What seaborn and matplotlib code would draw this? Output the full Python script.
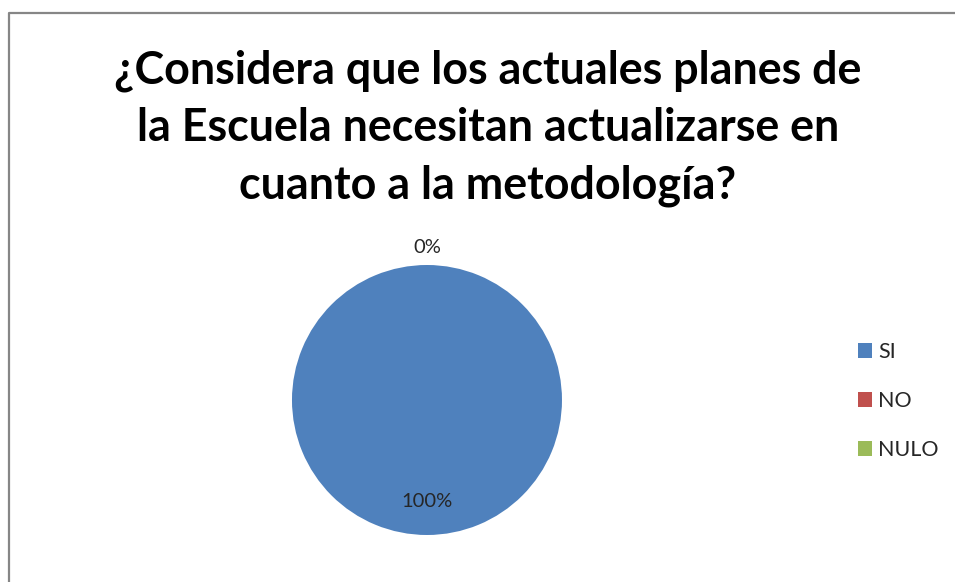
import seaborn as sns
import matplotlib.pyplot as plt
from matplotlib.lines import Line2D

# data
categories = ["SI", "NO", "NULO"]
values = [100, 0, 0]
pct_labels = ["100%", "0%", ""]
colors = ["#4F81BD", "#C0504D", "#9BBB59"]
title = "¿Considera que los actuales planes de\nla Escuela necesitan actualizarse en\ncuanto a la metodología?"

sns.set_theme(style="white")
plt.rcParams["font.family"] = ["Lato", "DejaVu Sans"]

fig = plt.figure(figsize=(9.55, 5.82), dpi=100)
fig.patch.set_facecolor("white")

# chart border (left and top edges visible)
fig.add_artist(Line2D([0.0094, 0.0094, 1.0], [0.0, 0.9777, 0.9777],
                      transform=fig.transFigure, color="#868686", lw=1.6))

fig.text(488 / 955, 1 - 128 / 582, title, ha="center", va="center",
         fontsize=32.3, fontweight="bold", linespacing=1.45, color="black")

ax = fig.add_axes([0.2704, 0.02277, 0.3534, 0.5799])
wedges, texts = ax.pie(values, colors=colors, startangle=90, counterclock=False,
                       labels=pct_labels, labeldistance=1.13,
                       wedgeprops=dict(linewidth=0, edgecolor="none"),
                       textprops=dict(ha="center", va="center", fontsize=14.5))
# the full slice gets its label inside, at the bottom
texts[0].set_position((0, -0.75))
ax.set_xlim(-1.25, 1.25)
ax.set_ylim(-1.25, 1.25)
ax.set_aspect("equal")
ax.axis("off")

ax.legend(wedges, categories, loc="center left",
          bbox_to_anchor=(0.887, 1 - 401 / 582), bbox_transform=fig.transFigure,
          frameon=False, fontsize=15.5, handlelength=0.65, handleheight=0.65,
          handletextpad=0.3, labelspacing=1.35, borderpad=0)

fig.savefig("out.png", dpi=100)
